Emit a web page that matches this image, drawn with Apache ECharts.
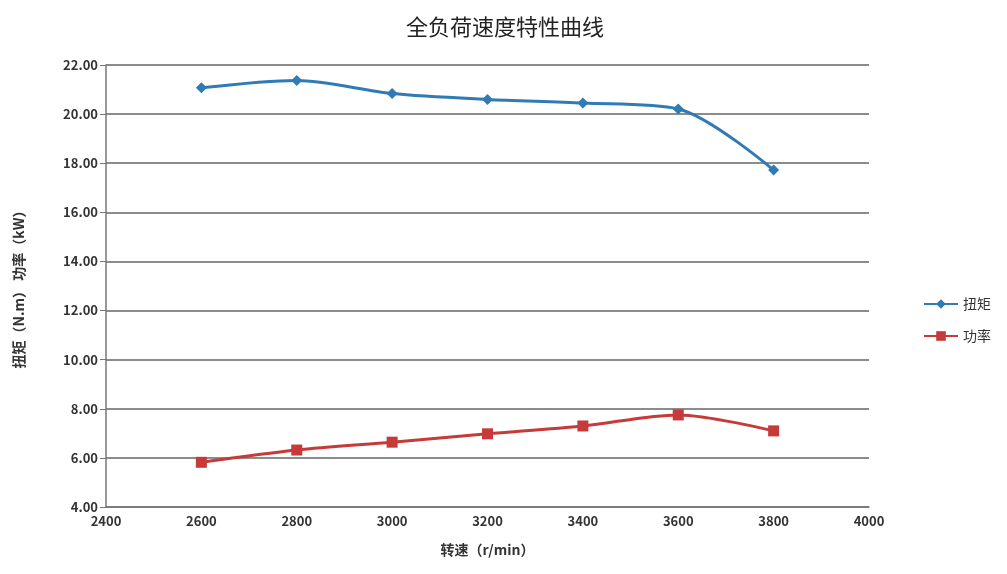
<!DOCTYPE html>
<html><head><meta charset="utf-8">
<script src="https://cdn.jsdelivr.net/npm/echarts@6/dist/echarts.min.js"></script>
<style>html,body{margin:0;padding:0;background:#fff}#c{width:1007px;height:574px}</style>
</head><body><div id="c"></div>
<script>
const speeds = [2600, 2800, 3000, 3200, 3400, 3600, 3800];
const torque = [21.07, 21.37, 20.84, 20.60, 20.45, 20.21, 17.72];
const power = [5.82, 6.32, 6.64, 6.98, 7.30, 7.75, 7.10];
const seriesNames = ['扭矩', '功率'];
const chart = echarts.init(document.getElementById('c'));
const font = '"Noto Sans CJK SC", "DejaVu Sans", sans-serif';
chart.setOption({
  backgroundColor: '#fff',
  title: { text: '全负荷速度特性曲线', left: 500, top: 11, textAlign: 'center',
    textStyle: { fontFamily: font, fontSize: 22, fontWeight: 'normal', color: '#222' } },
  legend: { orient: 'vertical', left: 918, top: 292, itemGap: 18, itemWidth: 34, itemHeight: 12,
    textStyle: { fontFamily: font, fontSize: 14, color: '#333' },
    data: seriesNames.map(n => ({ name: n })) },
  grid: { left: 106, right: 138, top: 65, bottom: 67 },
  xAxis: { type: 'value', min: 2400, max: 4000, interval: 200,
    name: '转速（r/min）', nameLocation: 'middle', nameGap: 36,
    nameTextStyle: { fontFamily: font, fontSize: 14, color: '#333', fontWeight: 'bold' },
    axisLine: { show: true, lineStyle: { color: '#777', width: 1.5 } },
    axisTick: { show: false },
    axisLabel: { fontFamily: font, fontSize: 13, color: '#333', fontWeight: 'bold', margin: 8,
      formatter: v => String(v) },
    splitLine: { show: false } },
  yAxis: { type: 'value', min: 4, max: 22, interval: 2,
    name: '扭矩（N.m） 功率（kW）', nameLocation: 'middle', nameGap: 80,
    nameTextStyle: { fontFamily: font, fontSize: 14, color: '#333', fontWeight: 'bold' },
    axisLine: { show: true, lineStyle: { color: '#777', width: 1.5 } },
    axisTick: { show: true, length: 6, lineStyle: { color: '#777' } },
    axisLabel: { fontFamily: font, fontSize: 13, color: '#333', fontWeight: 'bold',
      formatter: v => v.toFixed(2) },
    splitLine: { show: true, lineStyle: { color: '#666', width: 1.5 } } },
  series: [
    { name: seriesNames[0], type: 'line', smooth: 0.3, symbol: 'diamond', symbolSize: 11,
      data: speeds.map((s, i) => [s, torque[i]]),
      itemStyle: { color: '#2f7bb5' }, lineStyle: { color: '#2f7bb5', width: 3 } },
    { name: seriesNames[1], type: 'line', smooth: 0.3, symbol: 'rect', symbolSize: 11,
      data: speeds.map((s, i) => [s, power[i]]),
      itemStyle: { color: '#c63a3a' }, lineStyle: { color: '#c63a3a', width: 3 } }
  ]
});
</script></body></html>
